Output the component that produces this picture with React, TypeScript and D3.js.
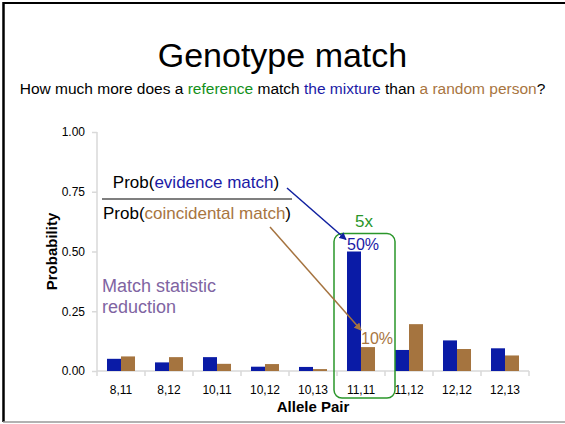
import React, { useEffect, useRef } from 'react';
import * as d3 from 'd3';

const allelePairs = ['8,11', '8,12', '10,11', '10,12', '10,13', '11,11', '11,12', '12,12', '12,13'];
const evidenceMatch = [0.051, 0.036, 0.058, 0.018, 0.017, 0.5, 0.088, 0.128, 0.095];
const coincidentalMatch = [0.061, 0.058, 0.03, 0.029, 0.008, 0.1, 0.196, 0.092, 0.065];
const yTicks = [0, 0.25, 0.5, 0.75, 1];
const seriesNames = ['evidence', 'coincidental'];

const BLUE = '#0a1ba6';
const BROWN = '#a5743f';
const GREEN = '#2a962a';
const PURPLE = '#8064a2';
const FONT = 'Arial, "Liberation Sans", sans-serif';

const App: React.FC = () => {
  const svgRef = useRef<SVGSVGElement>(null);

  useEffect(() => {
    if (!svgRef.current) return;
    document.body.style.margin = '0';

    const width = 565;
    const height = 424;
    const margin = { top: 132, right: 36, bottom: 53, left: 97 };

    const svg = d3.select(svgRef.current);
    svg.selectAll('*').remove();
    svg.attr('width', width).attr('height', height).style('font-family', FONT);

    svg.append('rect').attr('width', width).attr('height', height).attr('fill', '#fff');

    // slide frame
    svg.append('line').attr('x1', 3).attr('x2', width).attr('y1', 3).attr('y2', 3)
      .attr('stroke', '#000').attr('stroke-width', 2);
    svg.append('line').attr('x1', 3.5).attr('x2', 3.5).attr('y1', 2).attr('y2', 422)
      .attr('stroke', '#000').attr('stroke-width', 2.5);
    svg.append('line').attr('x1', 3).attr('x2', width).attr('y1', 422).attr('y2', 422)
      .attr('stroke', '#999').attr('stroke-width', 1.5);

    // title + question
    svg.append('text').attr('x', width / 2).attr('y', 67).attr('text-anchor', 'middle')
      .attr('font-size', 34).attr('fill', '#000').text('Genotype match');

    const sub = svg.append('text').attr('x', width / 2).attr('y', 94)
      .attr('text-anchor', 'middle').attr('font-size', 15.5).attr('fill', '#000');
    const parts: [string, string][] = [
      ['How much more does a ', '#000'],
      ['reference', '#13901a'],
      [' match ', '#000'],
      ['the mixture', '#1a1aa6'],
      [' than ', '#000'],
      ['a random person', '#a8753f'],
      ['?', '#000'],
    ];
    parts.forEach(([t, c]) => sub.append('tspan').attr('fill', c).text(t));

    const x = d3.scaleBand<string>()
      .domain(allelePairs)
      .range([margin.left, width - margin.right]);

    const x1 = d3.scaleBand<string>()
      .domain(seriesNames)
      .range([0, x.bandwidth()])
      .paddingOuter(0.714);

    const y = d3.scaleLinear()
      .domain([0, 1])
      .range([height - margin.bottom, margin.top]);

    // y axis
    const yAxis = svg.append('g').attr('transform', `translate(${margin.left},0)`)
      .call(d3.axisLeft(y).tickValues(yTicks).tickFormat(d3.format('.2f')).tickSize(5).tickPadding(7));
    yAxis.select('.domain').attr('stroke', '#d9d9d9').attr('stroke-width', 1.5)
      .attr('d', `M0,${y(1)}V${y(0)}`);
    yAxis.selectAll('.tick line').attr('stroke', '#d9d9d9').attr('stroke-width', 1.5);
    yAxis.selectAll('.tick text').attr('font-size', 12).attr('fill', '#000')
      .attr('font-family', FONT);

    // x axis
    const xAxis = svg.append('g').attr('transform', `translate(0,${y(0)})`)
      .call(d3.axisBottom(x).tickSize(0).tickPadding(14));
    xAxis.select('.domain').attr('stroke', '#d9d9d9').attr('stroke-width', 1.5)
      .attr('d', `M${margin.left},0H${width - margin.right}`);
    xAxis.selectAll('.tick text').attr('font-size', 12).attr('fill', '#000')
      .attr('font-family', FONT);
    const bounds = allelePairs.map(d => x(d) as number).concat([x.range()[1]]);
    xAxis.selectAll('.bound').data(bounds).enter().append('line')
      .attr('x1', d => d).attr('x2', d => d).attr('y1', 0).attr('y2', 5)
      .attr('stroke', '#d9d9d9').attr('stroke-width', 1.5);

    // bars
    const groups = svg.append('g').selectAll('g').data(allelePairs).enter().append('g')
      .attr('transform', d => `translate(${x(d)},0)`);
    groups.append('rect')
      .attr('x', x1('evidence') as number)
      .attr('width', x1.bandwidth())
      .attr('y', (_d, i) => y(evidenceMatch[i]))
      .attr('height', (_d, i) => y(0) - y(evidenceMatch[i]))
      .attr('fill', BLUE);
    groups.append('rect')
      .attr('x', x1('coincidental') as number)
      .attr('width', x1.bandwidth())
      .attr('y', (_d, i) => y(coincidentalMatch[i]))
      .attr('height', (_d, i) => y(0) - y(coincidentalMatch[i]))
      .attr('fill', BROWN);

    // axis titles
    svg.append('text').attr('x', (margin.left + width - margin.right) / 2).attr('y', 412)
      .attr('text-anchor', 'middle').attr('font-size', 15).attr('font-weight', 'bold')
      .text('Allele Pair');
    svg.append('text')
      .attr('transform', `translate(57,${(y(0) + y(1)) / 2}) rotate(-90)`)
      .attr('text-anchor', 'middle').attr('font-size', 15).attr('font-weight', 'bold')
      .text('Probability');

    // fraction annotation
    const num = svg.append('text').attr('x', 196).attr('y', 188).attr('text-anchor', 'middle')
      .attr('font-size', 17).attr('fill', '#000');
    num.append('tspan').text('Prob(');
    num.append('tspan').attr('fill', '#1a1aa6').text('evidence match');
    num.append('tspan').text(')');
    svg.append('line').attr('x1', 102).attr('x2', 292).attr('y1', 199).attr('y2', 199)
      .attr('stroke', '#7f7f7f').attr('stroke-width', 2);
    const den = svg.append('text').attr('x', 197).attr('y', 219).attr('text-anchor', 'middle')
      .attr('font-size', 17).attr('fill', '#000');
    den.append('tspan').text('Prob(');
    den.append('tspan').attr('fill', '#a8753f').text('coincidental match');
    den.append('tspan').text(')');

    const purple = svg.append('text').attr('font-size', 18).attr('fill', PURPLE);
    purple.append('tspan').attr('x', 102).attr('y', 292).text('Match statistic');
    purple.append('tspan').attr('x', 102).attr('y', 313).text('reduction');

    // highlight of 11,11
    const hx = x('11,11') as number;
    const defs = svg.append('defs');
    [['arrBlue', '#1020a0'], ['arrBrown', '#a5733f']].forEach(([id, c]) => {
      defs.append('marker').attr('id', id).attr('viewBox', '0 0 10 10')
        .attr('refX', 9).attr('refY', 5).attr('markerWidth', 5).attr('markerHeight', 5)
        .attr('orient', 'auto').append('path').attr('d', 'M0,0L10,5L0,10z').attr('fill', c);
    });

    svg.append('rect').attr('x', hx - 3).attr('y', y(0.575)).attr('width', 61)
      .attr('height', 398 - y(0.575)).attr('rx', 8)
      .attr('fill', 'none').attr('stroke', GREEN).attr('stroke-width', 1.5);

    svg.append('text').attr('x', hx + 27).attr('y', 227).attr('text-anchor', 'middle')
      .attr('font-size', 17).attr('fill', GREEN).text('5x');

    svg.append('text').attr('x', hx + x1('evidence')!).attr('y', y(evidenceMatch[5]) - 2)
      .attr('font-size', 16).attr('fill', '#1a1aa6').text('50%');
    svg.append('text').attr('x', hx + x1('coincidental')!).attr('y', y(coincidentalMatch[5]) - 3)
      .attr('font-size', 16).attr('fill', '#a8753f').text('10%');

    svg.append('line').attr('x1', 287).attr('y1', 188)
      .attr('x2', hx + x1('evidence')! - 1).attr('y2', y(evidenceMatch[5]) - 12)
      .attr('stroke', '#1020a0').attr('stroke-width', 1.5).attr('marker-end', 'url(#arrBlue)');
    svg.append('line').attr('x1', 270).attr('y1', 227)
      .attr('x2', hx + x1('coincidental')!).attr('y2', y(coincidentalMatch[5]) - 17)
      .attr('stroke', '#a5733f').attr('stroke-width', 1.5).attr('marker-end', 'url(#arrBrown)');
  }, []);

  return <svg ref={svgRef} style={{ position: 'absolute', left: 0, top: 0 }}></svg>;
};

export default App;
